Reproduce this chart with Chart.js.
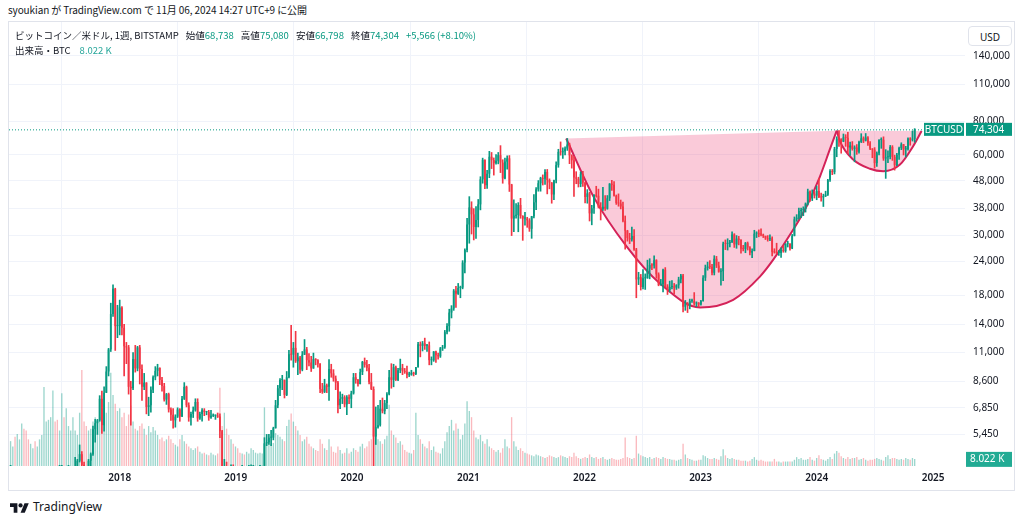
<!DOCTYPE html>
<html>
<head>
<meta charset="utf-8">
<script src="https://cdn.jsdelivr.net/npm/chart.js@4.4.1/dist/chart.umd.min.js"></script>
<style>
html, body { margin: 0; padding: 0; background: #fff; width: 1024px; height: 519px; overflow: hidden; }
body { font-family: "Noto Sans CJK JP", "Noto Sans", sans-serif; color: #131722; position: relative; }
#hdr { position: absolute; left: 8px; top: 3px; font-size: 10px; line-height: 14px; white-space: nowrap; letter-spacing: -0.1px; }
#pane { position: absolute; left: 8px; top: 21px; width: 1007px; height: 470px; border: 1px solid #e0e3eb; box-sizing: border-box; }
#wrap { position: absolute; left: 0; top: 0; width: 1005px; height: 468px; }
#legend { position: absolute; left: 6px; top: 6px; font-size: 9.5px; line-height: 15px; white-space: nowrap; z-index: 2; }
#legend .v { color: #089981; }
#legend .vv { color: #26a69a; }
#legend .sp { margin-left: 7px; }
#usd { position: absolute; left: 959px; top: 4px; width: 44px; height: 20px; border: 1px solid #e0e3eb; border-radius: 4px; background: #fff;
       font: 10px "Noto Sans", sans-serif; line-height: 20px; text-align: center; box-sizing: border-box; z-index: 2; }
#foot { position: absolute; left: 10px; top: 498px; font: 12px "Noto Sans", sans-serif; color: #131722; display: flex; align-items: center; }
#foot svg { margin-right: 4px; }
</style>
</head>
<body>
<div id="hdr">syoukian が TradingView.com で 11月 06, 2024 14:27 UTC+9 に公開</div>
<div id="pane">
  <div id="wrap"><canvas id="chart"></canvas></div>
  <div id="legend">
    <div>ビットコイン／米ドル, 1週, BITSTAMP<span id="ohlc"></span></div>
    <div>出来高・BTC <span class="vv sp" id="vol"></span></div>
  </div>
  <div id="usd">USD</div>
</div>
<div id="foot">
  <svg width="19" height="12" viewBox="0 0 36 22"><path d="M14 22H7V11H0V4h14v18z" fill="#131722"/><circle cx="20" cy="8" r="4" fill="#131722"/><path d="M28 22h-8l7.5-18h8L28 22z" fill="#131722"/></svg>
  TradingView
</div>
<script>
// weekly bars, first bar = week of 2017-01-02 (Monday); prices in thousand USD
const FIRST_WEEK = Date.UTC(2017, 0, 2);
const FIRST_OPEN_K = 0.96;

const CLOSE_K = [
  // 2017
  .91,.82,.92,.92,1.01,1.00,1.05,1.15,1.27,1.23,1.03,.96,1.08,1.20,1.18,1.25,1.43,1.60,1.77,2.05,2.15,2.55,2.95,2.60,2.50,2.50,
  2.50,1.95,2.75,2.75,3.20,4.00,4.10,4.35,4.60,4.20,3.70,3.60,4.35,4.60,5.70,6.00,6.15,7.40,5.90,7.80,9.35,11.30,15.30,19.00,13.80,13.80,
  // 2018
  16.2,13.6,11.6,11.5,8.2,8.1,10.4,9.6,11.5,9.55,8.2,8.5,6.9,7.0,8.0,8.9,9.4,9.65,8.7,8.25,7.35,7.7,6.75,6.45,6.15,6.35,
  6.75,6.35,7.4,8.2,7.0,6.3,6.5,6.7,7.2,6.25,6.5,6.7,6.6,6.6,6.3,6.4,6.4,6.4,6.35,5.6,3.95,4.1,3.6,3.2,3.95,3.85,4.05,
  // 2019
  3.6,3.55,3.55,3.4,3.65,3.65,3.85,3.85,3.9,4.0,4.0,4.1,5.05,5.1,5.3,5.3,5.75,7.0,8.1,8.7,8.7,7.65,8.9,10.85,
  10.8,11.45,10.2,10.55,9.5,10.8,11.3,10.3,10.1,9.6,10.4,10.3,10.0,8.05,7.85,8.3,8.2,9.55,9.2,8.8,8.5,7.0,7.4,7.5,7.05,7.5,7.4,7.75,
  // 2020
  8.9,8.7,8.4,9.3,10.15,9.9,9.65,8.55,8.05,5.35,5.8,5.9,6.8,6.65,7.13,7.7,8.9,8.7,9.7,8.7,9.45,9.65,9.4,9.3,
  9.1,9.1,9.25,9.15,9.7,11.8,11.65,11.9,11.65,11.7,10.3,10.3,11.1,10.75,10.65,11.4,11.5,13.1,13.8,15.5,16.05,18.7,18.2,19.15,19.2,23.8,26.5,33.0,
  // 2021
  38.2,36.0,32.3,34.3,39.2,48.6,57.5,46.2,51.0,59.0,57.3,55.8,57.0,59.8,56.1,49.0,56.6,58.2,46.5,34.7,35.6,35.8,39.0,35.5,
  34.7,34.7,34.2,31.8,35.4,39.9,44.6,47.0,49.2,48.8,51.8,48.3,47.3,42.7,48.2,54.9,61.5,61.3,61.8,63.3,65.5,59.7,57.2,49.4,48.9,46.7,50.8,47.3,
  // 2022
  41.8,43.1,36.3,37.9,42.4,42.2,38.3,37.7,38.4,37.8,41.3,46.8,46.4,42.2,39.7,39.5,38.5,34.1,31.3,29.4,29.0,29.9,26.6,20.6,21.0,19.3,
  20.8,20.8,22.6,23.3,23.2,24.3,21.5,19.6,19.8,22.4,19.4,18.8,19.3,19.4,19.2,19.6,20.6,21.3,16.3,16.7,16.45,17.1,17.1,16.75,16.85,16.6,
  // 2023
  17.1,20.9,22.7,23.0,22.95,21.8,24.6,23.2,22.0,22.1,28.0,27.95,28.15,28.3,30.3,27.8,29.25,28.9,26.8,26.75,28.1,27.1,25.9,26.3,30.5,30.6,
  30.3,30.25,29.9,29.3,29.05,29.3,26.1,26.0,25.85,25.85,26.55,26.25,27.95,27.95,26.85,29.95,34.5,35.0,37.05,37.4,37.7,39.45,43.75,41.35,43.0,42.25,
  // 2024
  43.95,41.7,41.6,42.1,42.6,48.3,52.15,51.7,63.1,68.95,68.4,67.2,69.65,69.4,63.9,64.95,63.1,63.9,61.55,66.95,69.1,67.75,
  69.65,66.2,63.2,62.7,55.85,60.8,68.15,68.25,58.1,58.7,58.9,64.2,58.95,54.85,59.95,63.6,65.6,62.85,62.85,69.0,68.3,68.738,74.304
];

const HIGH_K = [
  // 2017
  1.15,.92,.93,.93,1.04,1.07,1.06,1.19,1.29,1.33,1.26,1.06,1.11,1.21,1.22,1.26,1.45,1.64,1.80,2.10,2.76,2.60,3.00,2.98,2.78,2.60,
  2.65,2.55,2.95,2.85,3.30,4.10,4.48,4.40,4.98,4.70,4.30,4.10,4.40,4.65,5.85,6.20,6.20,7.60,7.90,8.20,9.75,11.40,16.80,19.67,19.10,16.50,
  // 2018
  17.25,16.3,14.0,12.0,11.7,8.6,11.0,11.7,11.6,11.7,9.9,9.2,8.5,7.5,8.2,9.0,9.75,9.95,9.6,8.9,8.45,7.75,7.77,6.85,6.8,6.45,
  6.85,6.8,7.55,8.5,8.25,7.15,6.6,6.9,7.4,7.4,6.6,6.8,6.8,6.65,6.7,6.7,6.5,6.45,6.55,6.5,5.65,4.4,4.3,3.6,4.2,4.2,4.1,
  // 2019
  4.1,3.7,3.65,3.6,3.7,3.7,4.2,3.9,3.95,4.05,4.1,4.15,5.3,5.45,5.45,5.65,5.8,7.3,8.3,8.8,9.05,8.7,9.35,11.2,
  13.88,12.0,13.2,10.95,10.65,11.1,12.3,11.5,10.9,10.65,10.95,10.45,10.35,10.0,8.45,8.75,8.4,10.35,9.95,9.5,9.0,8.6,7.85,7.7,7.6,7.6,7.65,7.9,
  // 2020
  9.2,9.2,8.75,9.55,10.2,10.5,10.3,9.95,9.2,8.2,6.9,7.0,7.3,7.45,7.3,7.8,9.45,10.0,9.95,9.8,9.6,10.4,9.95,9.6,
  9.8,9.3,9.45,9.3,9.7,12.0,12.05,12.1,12.45,11.8,12.05,10.6,11.1,11.15,10.95,11.5,11.7,13.3,14.1,15.95,16.45,18.9,19.4,19.9,19.45,24.2,26.8,34.8,
  // 2021
  41.9,40.1,37.8,38.5,40.9,49.7,58.3,57.5,52.5,61.8,61.2,58.4,60.1,61.2,64.9,57.5,58.3,59.5,59.6,46.6,40.8,39.5,39.8,41.3,
  35.6,36.6,35.1,34.7,35.4,42.6,45.3,48.1,49.5,50.5,52.9,52.9,48.8,47.3,48.3,56.5,62.9,67.0,63.7,64.2,69.0,66.3,60.0,59.1,51.9,49.5,51.8,52.1,
  // 2022
  47.5,44.5,43.5,38.9,42.6,45.8,44.7,39.8,45.4,42.3,42.3,46.9,48.2,47.7,42.5,42.9,40.7,40.0,35.5,31.4,30.6,32.3,31.6,26.9,21.9,21.5,
  22.4,21.6,24.3,24.6,23.6,25.2,24.4,21.8,20.6,22.5,22.8,19.7,20.3,20.4,19.9,19.7,21.0,21.5,21.5,17.2,16.9,17.4,17.4,18.4,17.0,16.9,
  // 2023
  17.2,21.3,23.3,23.9,24.2,23.45,25.25,25.1,23.9,22.6,28.4,28.9,29.2,28.8,31.0,30.5,30.0,29.8,29.0,27.6,28.3,28.4,27.3,26.8,31.4,31.0,
  31.5,31.8,30.4,29.9,30.0,30.2,29.7,26.8,28.1,26.4,27.0,27.5,28.0,28.6,28.0,30.3,35.2,35.9,38.0,38.0,38.4,39.7,44.7,44.0,44.4,43.8,
  // 2024
  45.9,49.0,43.2,42.8,43.9,48.6,52.8,52.9,64.0,70.0,73.8,68.9,71.7,71.3,72.8,66.9,67.2,64.8,65.5,67.5,71.9,70.0,
  72.0,70.2,67.2,63.3,63.8,61.5,68.4,69.4,70.0,62.7,62.0,65.0,64.9,59.8,60.7,64.1,66.5,65.6,64.5,69.4,69.5,73.6,75.08
];

const LOW_K = [
  // 2017
  .88,.75,.82,.88,.91,.93,.98,1.04,1.14,1.00,.97,.89,.93,1.05,1.16,1.17,1.24,1.40,1.55,1.75,1.95,2.10,2.48,2.20,2.45,2.35,
  2.45,1.85,1.90,2.45,2.62,3.15,3.95,3.95,4.30,4.00,2.97,3.50,3.60,4.15,4.55,5.10,5.45,6.10,5.50,5.60,7.80,9.00,11.10,15.00,11.20,12.50,
  // 2018
  12.8,12.8,9.0,10.0,7.7,5.9,8.0,9.3,9.4,8.4,7.3,8.0,6.5,6.4,6.6,7.8,8.7,9.0,8.35,7.9,7.25,7.05,6.6,6.15,5.75,5.8,
  6.3,6.1,6.35,7.35,6.9,6.1,5.9,6.3,6.65,6.1,6.2,6.1,6.4,6.45,6.15,6.25,6.35,6.2,6.3,5.3,3.6,3.5,3.3,3.12,3.2,3.55,3.75,
  // 2019
  3.5,3.45,3.45,3.35,3.35,3.55,3.6,3.7,3.7,3.85,3.9,3.95,4.1,4.95,5.0,4.95,5.2,5.75,6.85,7.6,8.0,7.45,7.6,8.85,
  10.3,9.7,10.1,9.1,9.2,9.4,10.8,9.5,9.8,9.35,9.6,9.9,9.7,7.8,7.75,7.8,7.8,7.3,8.9,8.6,8.0,6.55,6.8,7.1,6.9,6.45,7.1,6.85,
  // 2020
  7.7,8.45,8.25,8.4,9.1,9.7,9.4,8.4,8.0,3.85,5.0,5.75,5.85,6.55,6.5,6.8,7.65,8.1,8.2,8.65,8.65,9.25,9.1,9.2,
  8.85,8.95,9.05,9.0,9.1,9.7,10.6,11.15,11.3,11.1,9.9,9.9,10.2,10.1,10.4,10.55,11.2,11.4,12.9,13.2,14.8,15.8,16.2,18.1,17.6,19.0,21.8,26.1,
  // 2021
  28.1,30.4,28.9,29.3,32.3,37.4,47.0,44.9,45.0,49.3,53.3,50.4,55.4,55.5,51.5,47.0,48.8,53.0,43.8,30.0,31.0,34.8,31.0,34.8,
  28.8,32.8,32.2,31.1,29.3,34.9,37.5,43.9,43.9,46.3,46.5,42.9,44.8,39.6,40.8,47.1,53.9,59.8,58.1,59.9,62.3,55.6,53.5,42.0,46.8,45.5,45.6,45.7,
  // 2022
  39.7,39.6,34.0,32.9,36.3,41.7,38.0,34.3,37.2,37.2,37.6,40.5,44.2,42.1,39.2,38.6,37.7,33.7,26.7,28.6,28.0,28.6,26.4,17.6,19.7,18.8,
  19.0,18.9,20.8,20.7,22.4,22.7,20.8,19.5,19.6,18.5,19.3,18.1,18.5,19.0,18.2,18.9,19.1,20.0,15.6,15.8,15.5,16.0,16.9,16.5,16.3,16.3,
  // 2023
  16.5,17.1,20.4,22.3,22.6,21.4,21.4,22.8,21.9,19.6,20.4,26.6,26.5,27.2,28.3,27.1,26.9,27.7,25.8,26.3,25.9,26.5,25.4,24.8,26.3,29.5,
  29.7,29.9,29.5,29.0,28.6,28.7,25.2,25.8,25.7,25.3,24.9,26.0,26.0,27.2,26.5,26.8,29.9,33.9,34.5,35.0,35.6,36.7,39.0,40.2,40.5,41.4,
  // 2024
  40.8,41.5,40.3,38.5,41.9,42.3,47.7,50.6,50.9,59.0,64.5,60.8,67.1,64.5,60.7,59.7,62.4,56.5,60.2,60.8,66.6,66.6,
  67.5,65.0,62.7,58.5,53.5,54.3,59.9,63.4,57.2,49.0,56.1,57.9,57.2,52.6,54.6,57.6,62.7,59.9,58.9,62.4,65.1,67.5,66.798
];

// weekly volume, thousand BTC
const VOL_K = [
  // 2017
  40,45,34,28,22,33,36,30,48,42,40,30,25,20,28,22,30,35,89,50,52,55,85,50,52,40,
  82,55,65,45,40,55,40,35,60,108,50,45,40,42,50,55,50,55,65,70,60,72,105,80,70,62,
  // 2018
  65,55,60,45,58,68,50,42,40,45,48,42,35,45,38,44,40,35,30,32,28,30,34,30,26,24,
  22,30,35,28,25,22,20,18,20,22,16,14,15,13,12,15,13,12,14,88,45,60,42,35,30,25,22,
  // 2019
  20,15,14,13,16,14,20,18,15,14,15,14,66,30,28,25,26,37,35,33,30,28,45,52,59,50,
  45,40,35,28,30,33,25,22,20,18,17,30,25,20,18,30,22,16,15,22,18,14,15,20,14,16,
  // 2020
  20,18,16,22,25,20,22,28,30,45,42,30,28,25,30,34,69,40,35,32,26,28,24,18,16,15,
  14,18,60,35,30,25,22,20,28,18,22,16,15,14,20,28,38,45,52,40,48,42,30,35,48,73,
  // 2021
  62,55,40,32,30,35,28,25,30,22,20,18,16,18,15,20,30,22,20,55,28,22,18,20,17,15,
  14,13,12,11,13,12,11,10,9,10,12,11,10,9,10,12,11,10,9,11,10,15,11,9,8,9,
  // 2022
  10,9,13,10,9,10,8,9,10,8,7,8,9,8,7,7,8,9,32,10,9,8,9,34,14,12,
  11,10,9,10,8,9,10,9,8,10,9,8,8,7,7,6,7,8,25,13,9,8,7,6,6,7,
  // 2023
  7,12,11,9,8,8,9,8,7,11,19,12,9,8,9,8,7,7,6,6,6,5,6,8,10,7,
  6,7,6,5,5,5,5,8,5,5,4,5,5,5,5,5,7,10,8,9,7,7,8,10,7,6,
  // 2024
  9,12,8,7,6,8,10,8,14,17,15,11,9,8,10,8,9,9,10,7,8,9,
  7,6,7,7,8,9,8,7,6,10,12,8,9,9,8,7,8,7,9,8,7,9,8.022
];

const YEAR_LABELS = ['2018', '2019', '2020', '2021', '2022', '2023', '2024', '2025'];
const PRICE_TICKS_K = [5.45, 6.85, 8.6, 11, 14, 18, 24, 30, 38, 48, 60, 80, 110, 140];

// cup & handle drawing, points as [week index, price K]
const CUP_TOP = [[252.5, 69.0], [374, 73.8]];
const CUP_CURVE = [[252.5, 69.0], [264.7, 42.0], [279.7, 27.3], [294.6, 19.9], [312.6, 16.2], [327.5, 17.3], [339.5, 21.1],
                   [345.5, 24.4], [354.5, 31.6], [360.5, 38.6], [366.5, 49.9], [370.9, 62.8], [374, 73.8]];
const HANDLE_TOP = [[374, 73.8], [412.1, 73.6]];
const HANDLE_CURVE = [[374, 73.8], [375.4, 67.5], [381.4, 57.6], [388.9, 53.2], [394.9, 52.1], [402.4, 55.2], [408.3, 64.6], [412.1, 73.6]];

const UP = '#089981', DOWN = '#f23645';
const WEEK_MS = 7 * 864e5;
const X_MIN = 2.29, X_MAX = 431.6;

const N = CLOSE_K.length;
const opens = CLOSE_K.map((c, i) => i === 0 ? FIRST_OPEN_K : CLOSE_K[i - 1]);
const isUp = CLOSE_K.map((c, i) => c >= opens[i]);
const bodies = CLOSE_K.map((c, i) => ({ x: i, y: [opens[i], c] }));
const wicks = CLOSE_K.map((c, i) => ({
  x: i, y: [Math.min(LOW_K[i], opens[i], c), Math.max(HIGH_K[i], opens[i], c)]
}));
const vols = VOL_K.map((v, i) => ({ x: i, y: v }));
const toXY = arr => arr.map(p => ({ x: p[0], y: p[1] }));
const yearTicks = YEAR_LABELS.map(y => (Date.UTC(+y, 0, 1) - FIRST_WEEK) / WEEK_MS);

const fmt = v => Math.round(v * 1000).toLocaleString('en-US');

// legend text from the last bar
const lastO = opens[N - 1], lastC = CLOSE_K[N - 1];
const chg = Math.round(lastC * 1000) - Math.round(lastO * 1000);
document.getElementById('ohlc').innerHTML =
  '<span class="sp">始値<span class="v">' + fmt(lastO) + '</span></span>' +
  '<span class="sp">高値<span class="v">' + fmt(HIGH_K[N - 1]) + '</span></span>' +
  '<span class="sp">安値<span class="v">' + fmt(LOW_K[N - 1]) + '</span></span>' +
  '<span class="sp">終値<span class="v">' + fmt(lastC) + '</span></span>' +
  '<span class="sp v">+' + chg.toLocaleString('en-US') + ' (+' + (chg / (lastO * 10)).toFixed(2) + '%)</span>';
document.getElementById('vol').textContent = VOL_K[N - 1].toFixed(3) + ' K';

const tagPlugin = {
  id: 'tags',
  afterDraw(chart) {
    const { ctx, chartArea: a, scales } = chart;
    const y = scales.y.getPixelForValue(lastC);
    ctx.save();
    ctx.font = '10px "Noto Sans", sans-serif';
    ctx.textBaseline = 'middle';
    ctx.fillStyle = UP;
    ctx.fillRect(a.right - 41, y - 7, 40, 13);
    ctx.fillRect(a.right + 1, y - 7, 46, 13);
    ctx.fillStyle = '#fff';
    ctx.textAlign = 'center';
    ctx.fillText('BTCUSD', a.right - 21, y);
    ctx.textAlign = 'left';
    ctx.fillText(fmt(lastC), a.right + 8, y);
    const vy = scales.yv.getPixelForValue(VOL_K[N - 1]);
    ctx.fillStyle = '#22ab94';
    ctx.fillRect(a.right + 1, vy - 7, 46, 15);
    ctx.fillStyle = '#fff';
    ctx.fillText(VOL_K[N - 1].toFixed(3) + ' K', a.right + 5, vy + 0.5);
    ctx.restore();
  }
};

new Chart(document.getElementById('chart'), {
  type: 'bar',
  data: {
    datasets: [
      { data: bodies, backgroundColor: isUp.map(u => u ? UP : DOWN), grouped: false,
        categoryPercentage: 1, barPercentage: 0.8, minBarLength: 1, order: 0 },
      { data: wicks, backgroundColor: isUp.map(u => u ? UP : DOWN), grouped: false,
        barThickness: 1, order: 1 },
      { data: vols, yAxisID: 'yv', grouped: false, categoryPercentage: 1, barPercentage: 0.6,
        backgroundColor: isUp.map(u => u ? 'rgba(8,153,129,0.4)' : 'rgba(242,54,69,0.35)'), order: 6 },
      { type: 'line', data: [{ x: X_MIN, y: lastC }, { x: X_MAX, y: lastC }], borderColor: UP,
        borderWidth: 1, borderDash: [1, 2], pointRadius: 0, order: 2 },
      { type: 'line', data: toXY(CUP_TOP), borderWidth: 0, pointRadius: 0, order: 5 },
      { type: 'line', data: toXY(CUP_CURVE), borderColor: 'rgb(212,34,88)', borderWidth: 2, pointRadius: 0,
        cubicInterpolationMode: 'monotone', fill: 4, backgroundColor: 'rgba(240,80,130,0.3)', order: 4 },
      { type: 'line', data: toXY(HANDLE_TOP), borderWidth: 0, pointRadius: 0, order: 5 },
      { type: 'line', data: toXY(HANDLE_CURVE), borderColor: 'rgb(212,34,88)', borderWidth: 2, pointRadius: 0,
        cubicInterpolationMode: 'monotone', fill: 6, backgroundColor: 'rgba(240,80,130,0.3)', order: 4 }
    ]
  },
  options: {
    responsive: true,
    maintainAspectRatio: false,
    animation: false,
    events: [],
    layout: { padding: 0 },
    plugins: { legend: { display: false }, tooltip: { enabled: false } },
    scales: {
      x: {
        type: 'linear', min: X_MIN, max: X_MAX, offset: false, bounds: 'data',
        afterBuildTicks: s => { s.ticks = yearTicks.map(v => ({ value: v })); },
        afterFit: s => { s.height = 24; },
        ticks: { callback: (v, i) => YEAR_LABELS[i], autoSkip: false, maxRotation: 0, padding: 6,
                 color: '#131722', font: { family: 'Noto Sans', size: 10, weight: '600' } },
        grid: { color: '#f0f3fa', drawTicks: false },
        border: { display: false }
      },
      y: {
        type: 'logarithmic', position: 'right', min: 4.157, max: 187.4, bounds: 'data',
        afterBuildTicks: s => { s.ticks = PRICE_TICKS_K.map(v => ({ value: v })); },
        afterFit: s => { s.width = 49; s.paddingTop = 0; s.paddingBottom = 0; },
        ticks: { callback: v => fmt(v), autoSkip: false, padding: 8, color: '#131722',
                 font: { family: 'Noto Sans', size: 10 } },
        grid: { color: '#f0f3fa', drawTicks: false },
        border: { display: false }
      },
      yv: { type: 'linear', display: false, min: 0, max: 500 }
    }
  },
  plugins: [tagPlugin]
});
</script>
</body>
</html>
